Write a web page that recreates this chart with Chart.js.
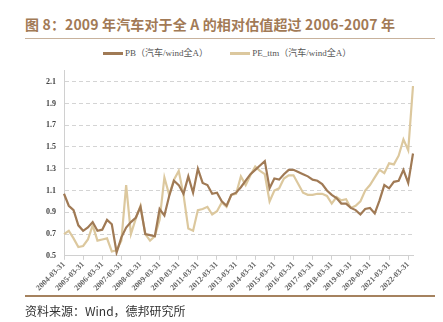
<!DOCTYPE html>
<html>
<head>
<meta charset="utf-8">
<script src="https://cdn.jsdelivr.net/npm/chart.js@4.4.1/dist/chart.umd.min.js"></script>
<style>
  body { margin: 0; background: #fff; width: 443px; height: 322px; position: relative; overflow: hidden; }
  #title { position: absolute; left: 25px; top: 14px; font: bold 14px "Noto Sans CJK SC", sans-serif; color: #a27a56; white-space: nowrap; letter-spacing: 0.15px; }
  #topline { position: absolute; left: 25px; top: 38px; width: 410px; height: 1px; background: #c8b29c; }
  #legend { position: absolute; left: 103px; top: 46px; font: 9px "Liberation Serif", "Noto Sans CJK SC", serif; color: #555; white-space: nowrap; }
  #legend span.sw { display: inline-block; width: 20px; height: 3px; vertical-align: middle; margin-right: 2px; }
  #legend span.item { margin-right: 20px; }
  #bottomline { position: absolute; left: 25px; top: 295px; width: 410px; height: 2px; background: #a5825f; }
  #source { position: absolute; left: 25px; top: 302px; font: 12px "Noto Sans CJK SC", sans-serif; color: #333; white-space: nowrap; }
  #chart { position: absolute; left: 0; top: 58px; }
</style>
</head>
<body>
<div id="title">图 8：2009 年汽车对于全 A 的相对估值超过 2006-2007 年</div>
<div id="topline"></div>
<div id="legend">
  <span class="item"><span class="sw" style="background:#a07a55"></span>PB（汽车/wind全A）</span>
  <span class="item"><span class="sw" style="background:#dcc89e"></span>PE_ttm（汽车/wind全A）</span>
</div>
<canvas id="chart" width="443" height="240"></canvas>
<div id="bottomline"></div>
<div id="source">资料来源：Wind，德邦研究所</div>

<script>
// quarter-end dates
const dates = [
  '2004-03-31','2004-06-30','2004-09-30','2004-12-31',
  '2005-03-31','2005-06-30','2005-09-30','2005-12-31',
  '2006-03-31','2006-06-30','2006-09-30','2006-12-31',
  '2007-03-31','2007-06-30','2007-09-30','2007-12-31',
  '2008-03-31','2008-06-30','2008-09-30','2008-12-31',
  '2009-03-31','2009-06-30','2009-09-30','2009-12-31',
  '2010-03-31','2010-06-30','2010-09-30','2010-12-31',
  '2011-03-31','2011-06-30','2011-09-30','2011-12-31',
  '2012-03-31','2012-06-30','2012-09-30','2012-12-31',
  '2013-03-31','2013-06-30','2013-09-30','2013-12-31',
  '2014-03-31','2014-06-30','2014-09-30','2014-12-31',
  '2015-03-31','2015-06-30','2015-09-30','2015-12-31',
  '2016-03-31','2016-06-30','2016-09-30','2016-12-31',
  '2017-03-31','2017-06-30','2017-09-30','2017-12-31',
  '2018-03-31','2018-06-30','2018-09-30','2018-12-31',
  '2019-03-31','2019-06-30','2019-09-30','2019-12-31',
  '2020-03-31','2020-06-30','2020-09-30','2020-12-31',
  '2021-03-31','2021-06-30','2021-09-30','2021-12-31',
  '2022-03-31','2022-06-30'
];

// PB 汽车/wind全A
const pb = [
  1.07, 0.96, 0.92, 0.78, 0.73, 0.76, 0.81, 0.73,
  0.74, 0.83, 0.79, 0.53, 0.67, 0.76, 0.81, 0.85,
  0.95, 0.70, 0.69, 0.68, 0.93, 0.87, 1.05, 1.19,
  1.15, 1.07, 1.23, 1.08, 1.30, 1.17, 1.15, 1.07,
  1.08, 1.00, 0.96, 1.06, 1.08, 1.13, 1.19, 1.25,
  1.29, 1.33, 1.37, 1.12, 1.21, 1.20, 1.25, 1.29,
  1.29, 1.27, 1.25, 1.23, 1.20, 1.19, 1.16, 1.10,
  1.06, 1.03, 0.98, 0.98, 0.94, 0.92, 0.88, 0.93,
  0.94, 0.89, 1.01, 1.15, 1.12, 1.18, 1.19, 1.29,
  1.17, 1.44
];

// PE_ttm 汽车/wind全A
const pe = [
  0.70, 0.73, 0.66, 0.58, 0.59, 0.65, 0.78, 0.64,
  0.65, 0.66, 0.54, 0.55, 0.64, 1.15, 0.70, 0.84,
  0.96, 0.70, 0.64, 0.68, 0.83, 1.22, 1.06, 1.20,
  1.28, 1.06, 0.75, 0.73, 0.92, 0.93, 0.95, 0.88,
  0.91, 0.99, 0.95, 1.06, 1.07, 1.23, 1.15, 1.24,
  1.32, 1.28, 1.25, 1.00, 1.10, 1.12, 1.21, 1.24,
  1.24, 1.16, 1.08, 1.06, 1.06, 1.07, 1.07, 1.05,
  0.98, 1.04, 1.01, 1.02, 0.94, 0.96, 1.00, 1.10,
  1.15, 1.22, 1.29, 1.26, 1.35, 1.34, 1.42, 1.57,
  1.47, 2.06
];

const yTicks = [0.5, 0.7, 0.9, 1.1, 1.3, 1.5, 1.7, 1.9, 2.1];

const serif = '"Liberation Serif", "DejaVu Serif", serif';

new Chart(document.getElementById('chart'), {
  type: 'line',
  data: {
    labels: dates,
    datasets: [{
      label: 'PB（汽车/wind全A）',
      data: pb,
      borderColor: '#a07a55',
      borderWidth: 2.2,
      pointRadius: 0,
      tension: 0
    }, {
      label: 'PE_ttm（汽车/wind全A）',
      data: pe,
      borderColor: '#dcc89e',
      borderWidth: 2.2,
      pointRadius: 0,
      tension: 0
    }]
  },
  options: {
    responsive: false,
    animation: false,
    devicePixelRatio: 1,
    layout: { padding: { top: 12, right: 30, left: 38, bottom: 5 } },
    plugins: { legend: { display: false }, tooltip: { enabled: false } },
    scales: {
      x: {
        afterBuildTicks: function (axis) {
          axis.ticks = axis.ticks.filter(function (t) { return t.value % 4 === 0; });
        },
        grid: { drawOnChartArea: false, color: '#d0d0d0', tickLength: 4 },
        border: { color: '#d0d0d0' },
        ticks: {
          autoSkip: false, maxRotation: 45, minRotation: 45,
          font: { family: serif, size: 8, weight: 'bold' }, color: '#666', padding: 0
        }
      },
      y: {
        min: 0.5, max: 2.2,
        afterBuildTicks: function (axis) {
          axis.ticks = yTicks.map(function (v) { return { value: v }; });
        },
        grid: { color: '#d4d4d4', drawTicks: false },
        border: { color: '#d0d0d0', dash: [4, 3] },
        ticks: {
          font: { family: serif, size: 8, weight: 'bold' }, color: '#444', padding: 8,
          callback: function (v) { return v.toFixed(1); }
        }
      }
    }
  }
});
</script>
</body>
</html>
